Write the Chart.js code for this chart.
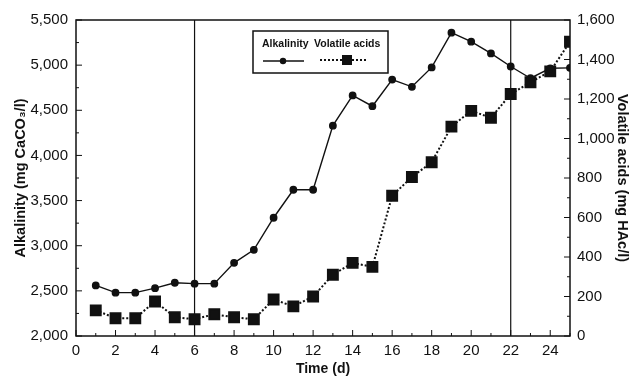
<!DOCTYPE html>
<html>
<head>
<meta charset="utf-8">
<script src="https://cdn.jsdelivr.net/npm/chart.js@4.4.1/dist/chart.umd.min.js"></script>
<style>
  html,body{margin:0;padding:0;background:#fff;}
  #wrap{width:632px;height:378px;}
</style>
</head>
<body>
<div id="wrap"><canvas id="c" width="632" height="378"></canvas></div>
<script>
// data
const days = [1,2,3,4,5,6,7,8,9,10,11,12,13,14,15,16,17,18,19,20,21,22,23,24,25];
const alkalinity = [2560,2480,2480,2530,2590,2580,2580,2810,2955,3310,3620,3620,4330,4665,4545,4840,4760,4975,5360,5260,5130,4985,4855,4965,4970];
const volatileAcids = [130,90,90,175,95,85,110,95,85,185,150,200,310,370,350,710,805,880,1060,1140,1105,1225,1285,1340,1490];
const phaseDays = [6, 22];
const legendNames = ["Alkalinity", "Volatile acids"];

const FONT = "'Liberation Sans', Arial, sans-serif";

function pts(xs, ys){ return xs.map((x,i)=>({x, y:ys[i]})); }

const datasets = [
  {
    label: legendNames[0], data: pts(days, alkalinity), yAxisID: "y",
    borderColor: "#111", backgroundColor: "#111", borderWidth: 1.4,
    pointStyle: "circle", pointRadius: 3.2, pointHoverRadius: 3.2, tension: 0
  },
  {
    label: legendNames[1], data: pts(days, volatileAcids), yAxisID: "y2",
    borderColor: "#111", backgroundColor: "#111", borderWidth: 2, borderDash: [2,2],
    pointStyle: "rect", pointRadius: 7, pointHoverRadius: 7, tension: 0
  }
];
phaseDays.forEach(d => datasets.push({
  label: "", data: [{x:d, y:2000}, {x:d, y:5500}], yAxisID: "y",
  borderColor: "#111", borderWidth: 1.2, pointRadius: 0
}));

// inward tick marks + frame + legend box
const decor = {
  id: "decor",
  afterDraw(chart){
    const {ctx, chartArea:a, scales} = chart;
    ctx.save();
    ctx.strokeStyle = "#111";
    ctx.lineWidth = 1.5;
    ctx.strokeRect(a.left, a.top, a.right - a.left, a.bottom - a.top);
    ctx.lineWidth = 1;
    ctx.beginPath();
    for (let v = 0; v <= 25; v++) {
      const x = scales.x.getPixelForValue(v), len = v % 2 ? 3 : 6;
      ctx.moveTo(x, a.bottom); ctx.lineTo(x, a.bottom - len);
    }
    for (let v = 2000; v <= 5500; v += 250) {
      const y = scales.y.getPixelForValue(v), len = v % 500 ? 3 : 6;
      ctx.moveTo(a.left, y); ctx.lineTo(a.left + len, y);
    }
    for (let v = 0; v <= 1600; v += 100) {
      const y = scales.y2.getPixelForValue(v), len = v % 200 ? 3 : 6;
      ctx.moveTo(a.right, y); ctx.lineTo(a.right - len, y);
    }
    ctx.stroke();

    // legend
    ctx.lineWidth = 1.5;
    ctx.fillStyle = "#fff";
    ctx.fillRect(253, 31, 135, 42);
    ctx.strokeRect(253, 31, 135, 42);
    ctx.fillStyle = "#111";
    ctx.font = "bold 10.5px " + FONT;
    ctx.textBaseline = "middle";
    ctx.fillText(legendNames[0], 262, 44);
    ctx.fillText(legendNames[1], 314, 44);
    ctx.lineWidth = 1.4;
    ctx.beginPath(); ctx.moveTo(263, 61); ctx.lineTo(304, 61); ctx.stroke();
    ctx.beginPath(); ctx.arc(283, 61, 3.2, 0, Math.PI*2); ctx.fill();
    ctx.lineWidth = 2; ctx.setLineDash([2,2]);
    ctx.beginPath(); ctx.moveTo(320, 60); ctx.lineTo(368, 60); ctx.stroke();
    ctx.setLineDash([]);
    ctx.fillRect(342, 55, 10, 10);
    ctx.restore();
  }
};

new Chart(document.getElementById("c"), {
  type: "line",
  data: { datasets },
  options: {
    responsive: false, animation: false,
    layout: { padding: { top: 20, left: 0, right: 0, bottom: 0 } },
    plugins: { legend: { display: false }, tooltip: { enabled: false } },
    scales: {
      x: {
        type: "linear", min: 0, max: 25,
        afterFit(s){ s.height = 42; },
        grid: { display: false, drawTicks: false },
        border: { display: false },
        ticks: { stepSize: 1, autoSkip: false, maxRotation: 0, color: "#111",
          font: { family: FONT, size: 15 }, padding: 6,
          callback: v => (v % 2 === 0 ? String(v) : "") },
        title: { display: true, text: "Time (d)", color: "#111",
          font: { family: FONT, size: 14, weight: "bold" }, padding: { top: 0, bottom: 0 } }
      },
      y: {
        position: "left", min: 2000, max: 5500,
        afterFit(s){ s.width = 76; },
        grid: { display: false, drawTicks: false },
        border: { display: false },
        ticks: { stepSize: 500, color: "#111", font: { family: FONT, size: 15 }, padding: 8,
          callback: v => v.toLocaleString("en-US") },
        title: { display: true, text: "Alkalinity (mg CaCO₃/l)", color: "#111",
          font: { family: FONT, size: 14.5, weight: "bold" }, padding: { top: 12, bottom: 0 } }
      },
      y2: {
        position: "right", min: 0, max: 1600,
        afterFit(s){ s.width = 62; },
        grid: { display: false, drawTicks: false },
        border: { display: false },
        ticks: { stepSize: 200, color: "#111", font: { family: FONT, size: 15 }, padding: 7,
          callback: v => v.toLocaleString("en-US") },
        title: { display: true, text: "Volatile acids (mg HAc/l)", color: "#111",
          font: { family: FONT, size: 14.5, weight: "bold" }, padding: { top: 1, bottom: 0 } }
      }
    }
  },
  plugins: [decor]
});
</script>
</body>
</html>
